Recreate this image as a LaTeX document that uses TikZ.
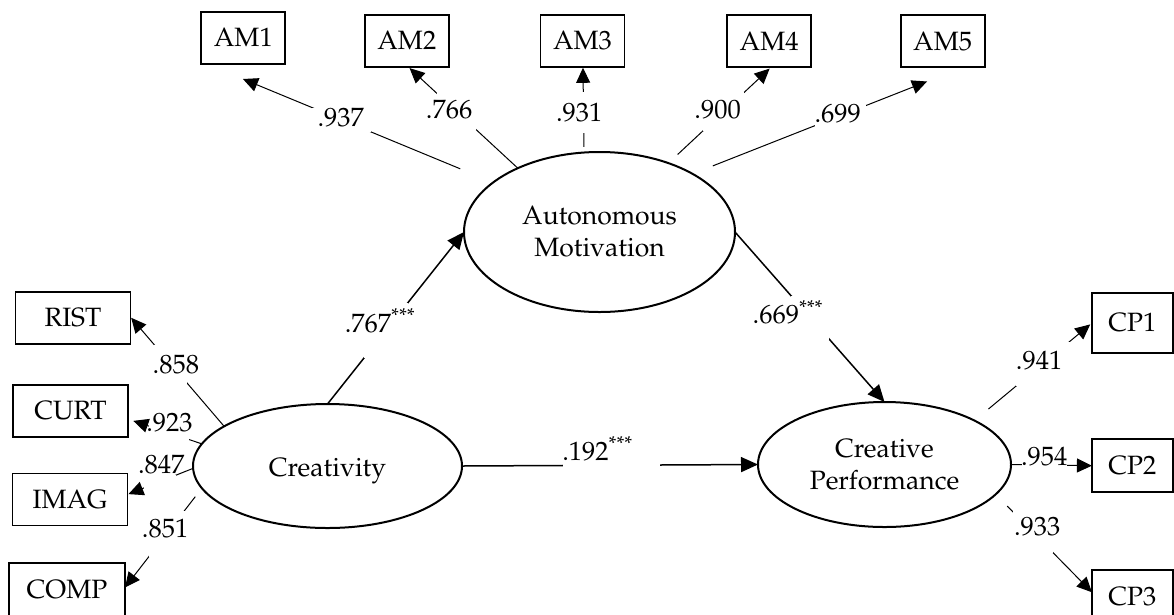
\documentclass[tikz,border=0pt]{standalone}
\usepackage[T1]{fontenc}
\usepackage{mathpazo}
\usetikzlibrary{arrows.meta,shapes.geometric}
% place a label text with its centre shifted by #1 (right) and its baseline by #2 (up)
\newcommand\offtext[3]{\smash{\raisebox{#2}{\makebox[0pt]{\hspace*{#1}\hspace*{#1}#3}}}}
\begin{document}
\begin{tikzpicture}[x=1pt,y=-1pt,
  every node/.style={font=\fontsize{26.5}{32}\selectfont},
  obs/.style={draw,line width=1.8pt,rectangle,inner sep=0pt,outer sep=0pt,minimum height=52pt},
  topbox/.style={obs,minimum width=84pt},
  sidebox/.style={obs,minimum width=115pt},
  rightbox/.style={obs,minimum width=81pt},
  lat/.style={draw,ellipse,line width=2pt,inner sep=0pt,outer sep=0pt,align=center},
  load/.style={line width=1pt,-{Triangle[length=15pt,width=14pt]}},
  effect/.style={line width=1.5pt,-{Triangle[length=17pt,width=15pt]}},
  lbl/.style={fill=white,inner sep=0pt,outer sep=0pt}
]
\useasboundingbox (0,0) rectangle (1174,614);
\clip (0,0) rectangle (1174,614);

% latent variables
\node[lat,minimum width=271pt,minimum height=160pt] (AM) at (599.5,232) {Autonomous\\Motivation};
\node[lat,minimum width=269pt,minimum height=124pt,text height=20pt,text depth=0pt] (CR) at (327.5,466) {Creativity};
\node[lat,minimum width=253pt,minimum height=125pt] (CP) at (884.5,464.5) {Creative\\Performance};

% indicators
\node[topbox] (AM1) at (243.3,37.8) {AM1};
\node[topbox] (AM2) at (406.8,40.8) {AM2};
\node[topbox] (AM3) at (582.5,40.8) {AM3};
\node[topbox] (AM4) at (769.2,41.3) {AM4};
\node[topbox] (AM5) at (942.7,41.3) {AM5};

\node[sidebox] (RIST) at (73,318) {RIST};
\node[sidebox] (CURT) at (70.5,411) {CURT};
\node[sidebox] (IMAG) at (70,499.5) {IMAG};
\node[sidebox,minimum width=116pt,minimum height=53pt] (COMP) at (67,589.5) {COMP};

\node[rightbox,minimum height=59.4pt] (CP1) at (1132.4,323) {CP1};
\node[rightbox,minimum height=52.7pt] (CP2) at (1132.4,465.7) {CP2};
\node[rightbox,minimum height=53pt] (CP3) at (1132.4,596.5) {CP3};

% loadings of Autonomous Motivation
\draw[load,shorten <=35.6pt,shorten >=39.8pt] (AM.155.14) --
  node[lbl,pos=0.528,minimum width=59pt,minimum height=24pt] (l1) {\offtext{-0.9pt}{-6.6pt}{.937}} (AM1.215.3);
\draw[load,shorten >=1.9pt] (AM.142.56) --
  node[lbl,pos=0.563,minimum width=39pt,minimum height=38pt] (l2) {\offtext{-6.9pt}{-7.3pt}{.766}} (AM2.273.9);
\draw[load,shorten <=5.6pt,shorten >=1pt] (AM.101.74) --
  node[lbl,pos=0.4626,minimum width=4pt,minimum height=41pt] (l3) {\offtext{-4.3pt}{-8.7pt}{.931}} (AM3.271.1);
\draw[load,shorten <=12.7pt,shorten >=1.9pt] (AM.45.97) --
  node[lbl,pos=0.5405,minimum width=41pt,minimum height=39pt] (l4) {\offtext{-6.3pt}{-7.3pt}{.900}} (AM4.274.9);
\draw[load,shorten <=21.8pt,shorten >=38.7pt] (AM.32.94) --
  node[lbl,pos=0.546,minimum width=51pt,minimum height=22pt] (l5) {\offtext{-2.5pt}{-7pt}{.699}} (AM5.308.85);

% loadings of Creativity
\draw[load,shorten >=1pt] (CR.159.0) --
  node[lbl,pos=0.568,minimum width=33pt,minimum height=39pt] (l6) {\offtext{4.9pt}{-9.2pt}{.858}} (RIST.1.1);
\draw[load,shorten >=5.6pt] (CR.170.48) --
  node[lbl,pos=0.45,minimum width=40pt,minimum height=16pt] (l7) {\offtext{0.9pt}{1.2pt}{.923}} (CURT.352.96);
\draw[load,shorten >=1pt] (CR.181.24) --
  node[lbl,pos=0.506,minimum width=32pt,minimum height=14pt] (l8) {\offtext{1.3pt}{7.7pt}{.847}} (IMAG.5.86);
\draw[load,shorten <=10.8pt] (CR.190.96) --
  node[lbl,pos=0.458,minimum width=36pt,minimum height=46pt] (l9) {\offtext{-1.5pt}{-3.7pt}{.851}} (COMP.2.76);

% loadings of Creative Performance
\draw[load,shorten <=18pt,shorten >=2.2pt] (CP.26.98) --
  node[lbl,pos=0.5795,minimum width=54pt,minimum height=44pt] (l10) {\offtext{-3.4pt}{-5.7pt}{.941}} (CP1.180.84);
\draw[load] (CP.east) --
  node[lbl,pos=0.411,minimum width=45pt,minimum height=6pt] (l11) {\offtext{0pt}{0pt}{.954}} (CP2.west);
\draw[load,shorten <=16.5pt] (CP.345.72) --
  node[lbl,pos=0.384,minimum width=40pt,minimum height=42pt] (l12) {\offtext{4.6pt}{-3.3pt}{.933}} (CP3.174.67);

% structural paths
\draw[effect] (CR.north) --
  node[lbl,pos=0.425,minimum width=44pt,minimum height=55pt] (l13) {\offtext{-5.5pt}{-1.4pt}{.767\textsuperscript{***}}} (AM.west);
\draw[effect] (AM.east) --
  node[lbl,pos=0.504,minimum width=38pt,minimum height=44pt] (l14) {\offtext{-22.5pt}{-6pt}{.669\textsuperscript{***}}} (CP.north);
\draw[effect] (CR.east) --
  node[lbl,pos=0.505,minimum width=97pt,minimum height=6pt] (l15) {\offtext{-14pt}{5pt}{.192\textsuperscript{***}}} (CP.west);
\end{tikzpicture}
\end{document}
